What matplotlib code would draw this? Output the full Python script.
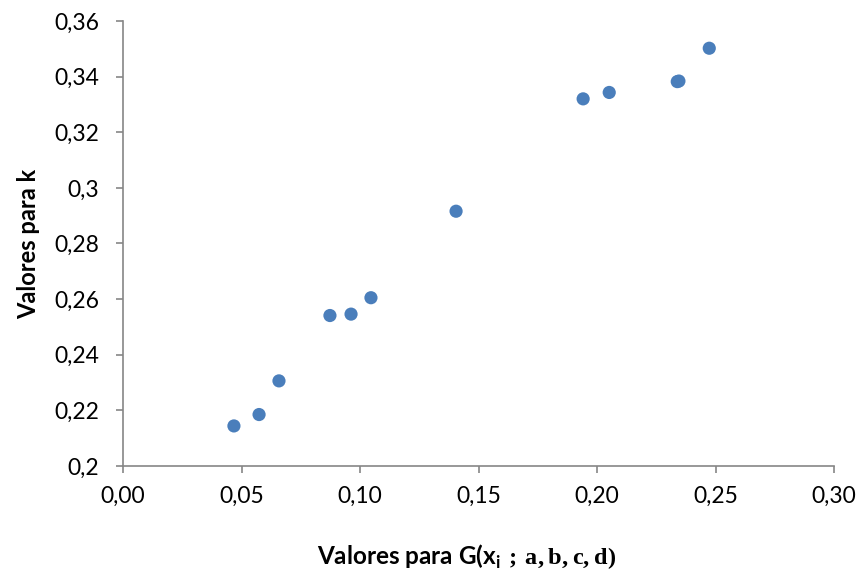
import matplotlib
matplotlib.use("Agg")
import matplotlib.pyplot as plt
from matplotlib.ticker import FuncFormatter

# values
g_values = [0.0468, 0.0574, 0.0658, 0.0873, 0.0962, 0.1046, 0.1405,
            0.1941, 0.2051, 0.2338, 0.2345, 0.2473]
k_values = [0.2144, 0.2185, 0.2306, 0.2541, 0.2546, 0.2605, 0.2916,
            0.3320, 0.3343, 0.3382, 0.3384, 0.3502]

x_ticks = [0.00, 0.05, 0.10, 0.15, 0.20, 0.25, 0.30]
y_ticks = [0.20, 0.22, 0.24, 0.26, 0.28, 0.30, 0.32, 0.34, 0.36]

plt.rcParams['font.family'] = ['Lato', 'DejaVu Sans']
plt.rcParams['mathtext.fontset'] = 'custom'
plt.rcParams['mathtext.rm'] = 'Liberation Serif:bold'
plt.rcParams['mathtext.sf'] = 'Lato:bold'

axis_grey = '#868686'

fig = plt.figure(figsize=(8.6, 5.78), dpi=100)
ax = fig.add_axes([0.143, 0.1938, 0.827, 0.7699])

ax.scatter(g_values, k_values, s=90, color='#4A7EBB', edgecolors='none', zorder=3)

ax.set_xlim(0, 0.30)
ax.set_ylim(0.20, 0.36)
ax.set_xticks(x_ticks)
ax.set_yticks(y_ticks)


def excel_general(v, pos):
    # Excel "general" style: 0,3 instead of 0,30
    s = ('%.2f' % v).rstrip('0').rstrip('.')
    return s.replace('.', ',')


ax.xaxis.set_major_formatter(FuncFormatter(lambda v, p: ('%.2f' % v).replace('.', ',')))
ax.yaxis.set_major_formatter(FuncFormatter(excel_general))

for side in ['top', 'right']:
    ax.spines[side].set_visible(False)
for side in ['left', 'bottom']:
    ax.spines[side].set_color(axis_grey)
    ax.spines[side].set_linewidth(1.2)

ax.tick_params(axis='both', direction='out', length=5, width=1.2, color=axis_grey,
               labelsize=16.5, labelcolor='black')
ax.tick_params(axis='x', pad=9)
ax.tick_params(axis='y', pad=12)

ax.set_ylabel('Valores para k', fontsize=17, fontweight='bold', labelpad=10)
fig.text(0.543, 0.012, r'Valores para G(x$_\mathsf{i}$$\mathrm{\ ;\,a,b,c,d)}$',
         fontsize=17.5, fontweight='bold', ha='center', va='bottom')

fig.savefig('out.png', dpi=100)
